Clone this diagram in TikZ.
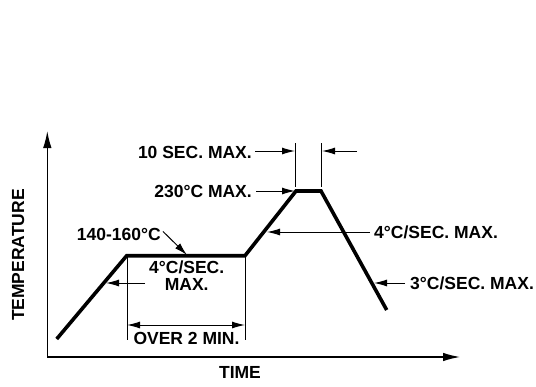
\documentclass[tikz,border=0pt]{standalone}
\usepackage{fontspec}
\setmainfont{Liberation Sans}
\usetikzlibrary{arrows.meta}
\begin{document}
\begin{tikzpicture}[x=1pt,y=-1pt,
  lbl/.style={font=\fontsize{17.5}{20}\selectfont\bfseries, inner sep=0pt},
  thin line/.style={line width=1pt},
  pointer/.style={line width=1pt, -{Latex[length=13pt,width=7pt]}},
  axisline/.style={line width=1.3pt, -{Latex[length=17pt,width=8.5pt]}},
  profile/.style={line width=3.6pt, line join=miter, line cap=butt}]
\useasboundingbox (0,0) rectangle (536,386);
% axes
\coordinate (org) at (47.3,357);
\coordinate (ytop) at (47.3,131);
\coordinate (xend) at (460,357);
\draw[axisline] (org) -- (ytop);
\draw[axisline] (org) -- (xend);
% profile
\coordinate (p0) at (56.7,339);
\coordinate (p1) at (126.7,255.7);
\coordinate (p2) at (245,255.7);
\coordinate (p3) at (296,191);
\coordinate (p4) at (321,191);
\coordinate (p5) at (386.7,310);
\draw[profile] (p0) -- (p1) -- (p2) -- (p3) -- (p4) -- (p5);
% peak ticks
\coordinate (t1a) at (295.5,143); \coordinate (t1b) at (295.5,187);
\coordinate (t2a) at (321.5,143); \coordinate (t2b) at (321.5,187);
\draw[thin line] (t1a) -- (t1b);
\draw[thin line] (t2a) -- (t2b);
% plateau ticks
\coordinate (v1a) at (127,257); \coordinate (v1b) at (127,340);
\coordinate (v2a) at (245,257); \coordinate (v2b) at (245,340);
\draw[thin line] (v1a) -- (v1b);
\draw[thin line] (v2a) -- (v2b);
% labels
\node[lbl, anchor=base east] (tensec) at (252,158) {10 SEC. MAX.};
\node[lbl, anchor=base east] (peak) at (252,197.5) {230°C MAX.};
\node[lbl, anchor=base west] (soak) at (76.7,240.5) {140-160°C};
\node[lbl, anchor=base west] (ramp2) at (374,238.3) {4°C/SEC. MAX.};
\node[lbl, align=center, anchor=base] (ramp1) at (186.7,290) {4°C/SEC.\\[-3pt]MAX.};
\node[lbl, anchor=base] (over) at (186.5,344) {OVER 2 MIN.};
\node[lbl, anchor=base west] (cool) at (410,289.3) {3°C/SEC. MAX.};
\node[lbl, anchor=base] (time) at (240,378.3) {TIME};
\node[lbl, anchor=base, rotate=90] (temp) at (24,255) {TEMPERATURE};
% pointers
\coordinate (a10l) at (295,151);
\coordinate (a10r) at (322,151);
\coordinate (a10rs) at (357,151);
\draw[pointer] (tensec.east |- a10l) ++(3,0) -- (a10l);
\draw[pointer] (a10rs) -- (a10r);
\coordinate (apk) at (295,191);
\draw[pointer] (peak.east |- apk) ++(4,0) -- (apk);
\coordinate (asoak) at (187,255);
\draw[pointer] (soak.east) ++(2,-3) -- (asoak);
\coordinate (ar2) at (267,232);
\draw[pointer] (ramp2.west |- ar2) ++(-4,0) -- (ar2);
\coordinate (ar1s) at (145,283);
\coordinate (ar1) at (106,283);
\draw[pointer] (ar1s) -- (ar1);
\coordinate (acs) at (405,283);
\coordinate (ac) at (374,283);
\draw[pointer] (acs) -- (ac);
\coordinate (o1) at (127,325);
\coordinate (o2) at (245,325);
\draw[thin line, {Latex[length=13pt,width=7pt]}-{Latex[length=13pt,width=7pt]}] (o1) -- (o2);
\end{tikzpicture}
\end{document}
